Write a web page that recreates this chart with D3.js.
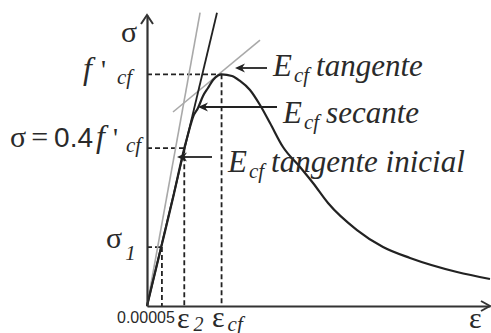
<!DOCTYPE html>
<html><head><meta charset="utf-8">
<script src="https://cdn.jsdelivr.net/npm/d3@7"></script>
<style>html,body{margin:0;padding:0;background:#fff;}svg{display:block;}</style>
</head><body>
<svg id="c" width="491" height="333"></svg>
<script>
// ---- data (schematic stress–strain curve) ----
const strainDomain = [0, 0.00115];
const stressDomain = [0, 37.8];
const curveStrain = [0, 0.0000469, 0.0000895, 0.000125, 0.0001341, 0.0001442, 0.0001542, 0.000171, 0.0001878,
  0.0002045, 0.0002213, 0.000238, 0.00025, 0.000285, 0.0003118, 0.0003453, 0.0003789, 0.0004124, 0.000456,
  0.000513, 0.0005566, 0.0006069, 0.0007041, 0.0007913, 0.0008818, 0.0010394, 0.00115];
const curveStress = [0, 7.53, 14.42, 20.5, 21.82, 23.25, 24.55, 25.72, 27.28,
  28.32, 29.36, 29.95, 30.1, 29.88, 29.23, 28.06, 26.11, 23.77, 20.65,
  18.06, 15.98, 13.38, 9.87, 7.66, 6.24, 4.42, 3.51];
// reference points: sigma1, 0.4 f'cf, f'cf
const refStrain = [0.00005, 0.000125, 0.00025];
const refStress = [7.66, 20.5, 30.1];
// modulus lines (start / end points)
const tangentInitialLine = [[0, 0], [0.000178, 38.1]];
const secantLine = [[0, 0], [0.0002347, 38.1]];
const tangentPeakLine = [[0.0000872, 25.2], [0.0003789, 34.55]];
const xTickLabels = ["0.00005", "ε", "ε", "ε"];

// ---- drawing ----
const svg = d3.select("#c");
const x = d3.scaleLinear().domain(strainDomain).range([147, 490]);
const y = d3.scaleLinear().domain(stressDomain).range([306, 15]);
const ink = "#222", grey = "#a9a9a9", txt = "#2a2a2a";

// dashed guides
const g = svg.append("g");
refStrain.forEach((e, i) => {
  g.append("line").attr("x1", x(0)).attr("x2", x(e)).attr("y1", y(refStress[i])).attr("y2", y(refStress[i]))
    .attr("stroke", ink).attr("stroke-width", 1.8).attr("stroke-dasharray", "5,3");
  g.append("line").attr("x1", x(e)).attr("x2", x(e)).attr("y1", y(refStress[i])).attr("y2", y(0))
    .attr("stroke", ink).attr("stroke-width", 1.8).attr("stroke-dasharray", "5,3");
});

// modulus lines
const lineGen = d3.line().x(d => x(d[0])).y(d => y(d[1]));
svg.append("path").attr("d", lineGen(tangentInitialLine)).attr("stroke", grey).attr("stroke-width", 1.6).attr("fill", "none");
svg.append("path").attr("d", lineGen(tangentPeakLine)).attr("stroke", grey).attr("stroke-width", 1.6).attr("fill", "none");
svg.append("path").attr("d", lineGen(secantLine)).attr("stroke", ink).attr("stroke-width", 1.8).attr("fill", "none");

// curve
const pts = curveStrain.map((e, i) => [e, curveStress[i]]);
svg.append("path").attr("d", d3.line().x(d => x(d[0])).y(d => y(d[1])).curve(d3.curveMonotoneX)(pts))
  .attr("stroke", ink).attr("stroke-width", 2.2).attr("fill", "none");

// axes (d3 axes with no ticks, arrowheads)
const xAxis = svg.append("g").attr("transform", `translate(0,${y(0)})`).call(d3.axisBottom(x).tickValues([]).tickSizeOuter(0));
const yAxis = svg.append("g").attr("transform", `translate(${x(0)},0)`).call(d3.axisLeft(y).tickValues([]).tickSizeOuter(0));
[xAxis, yAxis].forEach(a => a.select(".domain").attr("stroke", "#333").attr("stroke-width", 2.2));
svg.append("path").attr("d", `M${x(0)-6},${y(stressDomain[1])+9} L${x(0)},${y(stressDomain[1])} L${x(0)+6},${y(stressDomain[1])+9}`)
  .attr("stroke", "#333").attr("stroke-width", 2).attr("fill", "none");
svg.append("path").attr("d", `M${x(strainDomain[1])-9},${y(0)-5} L${x(strainDomain[1])},${y(0)} L${x(strainDomain[1])-9},${y(0)+5}`)
  .attr("stroke", "#333").attr("stroke-width", 2).attr("fill", "none");

// arrows
function arrow(x1, yv, tipX) {
  svg.append("line").attr("x1", x1).attr("x2", tipX + 6).attr("y1", yv).attr("y2", yv).attr("stroke", ink).attr("stroke-width", 1.8);
  svg.append("path").attr("d", `M${tipX},${yv} L${tipX+10},${yv-4.5} L${tipX+7},${yv} L${tipX+10},${yv+4.5} Z`).attr("fill", ink);
}
arrow(267, 68, 235);
arrow(277, 107, x(0.000171));
arrow(212, 157, 177);

// text helper: each part is its own <text>, chained horizontally
function label(px, py, parts) {
  let cx = px;
  parts.forEach(p => {
    cx += (p.dx || 0);
    const t = svg.append("text").attr("x", cx).attr("y", py + (p.dy || 0)).attr("fill", txt)
      .attr("font-family", p.f || "Liberation Serif")
      .attr("font-size", p.s)
      .attr("font-style", p.i ? "italic" : "normal")
      .text(p.t);
    cx += t.node().getComputedTextLength();
  });
}
// right annotations
label(273, 76, [{t: "E", s: 31, i: 1}, {t: "cf", s: 21, i: 1, dx: 2, dy: 6}, {t: "tangente", s: 31, i: 1, dx: 7}]);
label(283, 123, [{t: "E", s: 31, i: 1}, {t: "cf", s: 21, i: 1, dx: 2, dy: 6}, {t: "secante", s: 31, i: 1, dx: 7}]);
label(228, 172, [{t: "E", s: 31, i: 1}, {t: "cf", s: 21, i: 1, dx: 2, dy: 6}, {t: "tangente inicial", s: 31, i: 1, dx: 7}]);

// left labels
label(121, 42, [{t: "σ", s: 30}]);
label(83, 79, [{t: "f", s: 32, i: 1}, {t: "'", s: 28, dx: 9}, {t: "cf", s: 21, i: 1, dx: 11, dy: 5}]);
label(10, 147, [{t: "σ", s: 30}, {t: "=", s: 30, dx: 5}, {t: "0.4", s: 28, f: "Liberation Sans", dx: 6}, {t: "f", s: 32, i: 1, dx: 3}, {t: "'", s: 28, dx: 8}, {t: "cf", s: 21, i: 1, dx: 8, dy: 5}]);
label(106, 248, [{t: "σ", s: 30}, {t: "1", s: 21, i: 1, dx: 3, dy: 12}]);

// x labels
label(117, 323, [{t: xTickLabels[0], s: 16, f: "Liberation Sans"}]);
label(177, 328, [{t: xTickLabels[1], s: 30}, {t: "2", s: 20, i: 1, dx: 4, dy: 3}]);
label(212, 327, [{t: xTickLabels[2], s: 30}, {t: "cf", s: 21, i: 1, dx: 3, dy: 4}]);
label(469, 328, [{t: xTickLabels[3], s: 30}]);
</script>
</body></html>
